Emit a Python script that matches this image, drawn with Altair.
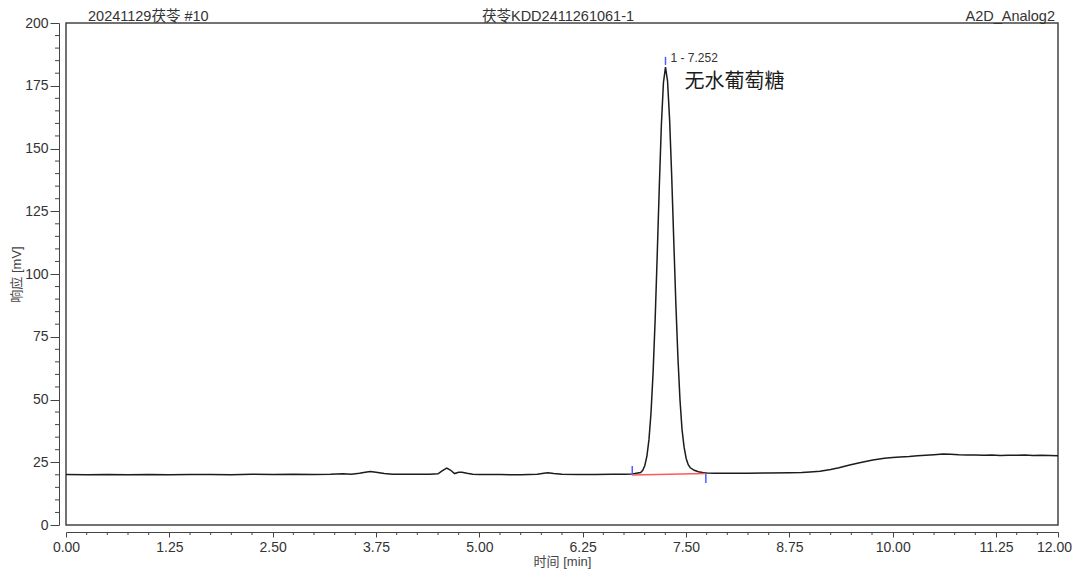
import altair as alt
import pandas as pd

# ---- data ----
time_min = [0.00, 0.25, 0.50, 0.75, 1.00, 1.25, 1.50, 1.75, 2.00, 2.25, 2.50, 2.75, 3.00, 3.20,
            3.35, 3.45, 3.55, 3.62, 3.68, 3.75, 3.85, 3.95, 4.10, 4.25, 4.40, 4.50, 4.55, 4.605,
            4.65, 4.70, 4.75, 4.79, 4.85, 4.92, 5.00, 5.25, 5.50, 5.70, 5.78, 5.83, 5.90, 6.00,
            6.20, 6.40, 6.60, 6.75, 6.85, 6.952, 6.977, 7.002, 7.027, 7.052, 7.077, 7.102, 7.127,
            7.152, 7.177, 7.202, 7.227, 7.252, 7.277, 7.302, 7.327, 7.352, 7.377, 7.402, 7.427,
            7.452, 7.477, 7.502, 7.527, 7.552, 7.60, 7.65, 7.70, 7.75, 7.85, 8.00, 8.25, 8.50,
            8.75, 8.90, 9.00, 9.12, 9.25, 9.35, 9.48, 9.60, 9.76, 9.90, 10.00, 10.09, 10.20,
            10.30, 10.40, 10.50, 10.61, 10.70, 10.80, 10.90, 11.00, 11.10, 11.20, 11.30, 11.40,
            11.50, 11.60, 11.70, 11.80, 11.90, 12.00]
response_mv = [20.1, 20.0, 20.1, 20.0, 20.1, 20.0, 20.1, 20.1, 20.0, 20.2, 20.1, 20.2, 20.1, 20.2,
               20.4, 20.2, 20.6, 21.0, 21.3, 21.0, 20.5, 20.2, 20.2, 20.2, 20.2, 20.4, 21.6, 22.7,
               21.9, 20.5, 21.0, 21.0, 20.6, 20.2, 20.1, 20.1, 20.0, 20.2, 20.6, 20.8, 20.5, 20.2,
               20.1, 20.1, 20.2, 20.2, 20.3, 20.9, 21.8, 23.7, 27.4, 34.0, 44.8, 60.8, 82.0,
               107.7, 134.8, 159.3, 176.2, 182.4, 176.8, 161.3, 139.0, 113.3, 88.4, 66.9, 50.0,
               38.0, 31.0, 26.5, 24.0, 22.8, 21.8, 21.2, 20.9, 20.7, 20.6, 20.6, 20.6, 20.7,
               20.8, 20.9, 21.1, 21.4, 22.1, 22.8, 23.9, 24.8, 25.9, 26.6, 26.9, 27.1, 27.3,
               27.6, 27.8, 28.0, 28.3, 28.2, 28.0, 27.9, 27.9, 27.8, 27.9, 27.7, 27.8,
               27.8, 27.9, 27.7, 27.8, 27.7, 27.6]

baseline_t = [6.85, 7.74]
baseline_v = [19.9, 20.5]

marker_t = [6.85, 7.252, 7.74]
marker_lo = [19.9, 183.3, 16.7]
marker_hi = [23.5, 186.5, 20.3]

peak_label_t = [7.252]
peak_label_v = [186.0]
peak_label = ["1 - 7.252"]
compound_t = [7.252]
compound_v = [175.0]
compound_name = ["无水葡萄糖"]

x_ticks = [0.00, 1.25, 2.50, 3.75, 5.00, 6.25, 7.50, 8.75, 10.00, 11.25, 12.00]
y_ticks = [0, 25, 50, 75, 100, 125, 150, 175, 200]
x_minor = [0.25, 0.5, 0.75, 1.0, 1.5, 1.75, 2.0, 2.25, 2.75, 3.0, 3.25, 3.5, 4.0, 4.25, 4.5, 4.75,
           5.25, 5.5, 5.75, 6.0, 6.5, 6.75, 7.0, 7.25, 7.75, 8.0, 8.25, 8.5, 9.0, 9.25, 9.5, 9.75,
           10.25, 10.5, 10.75, 11.0, 11.5, 11.75]
y_minor = [5, 10, 15, 20, 30, 35, 40, 45, 55, 60, 65, 70, 80, 85, 90, 95, 105, 110, 115, 120,
           130, 135, 140, 145, 155, 160, 165, 170, 180, 185, 190, 195]

header_texts = ["20241129茯苓 #10", "茯苓KDD2411261061-1", "A2D_Analog2"]
x_title = "时间 [min]"
y_title = "响应 [mV]"

FONT = "Liberation Sans, Arial, Noto Sans CJK SC"
W, H = 992, 502

trace = pd.DataFrame({"t": time_min, "v": response_mv})
base = pd.DataFrame({"t": baseline_t, "v": baseline_v})
marks = pd.DataFrame({"t": marker_t, "v": marker_lo, "v2": marker_hi})
lab1 = pd.DataFrame({"t": peak_label_t, "v": peak_label_v, "s": peak_label})
lab2 = pd.DataFrame({"t": compound_t, "v": compound_v, "s": compound_name})
xm = pd.DataFrame({"t": x_minor})
ym = pd.DataFrame({"v": y_minor})
heads = pd.DataFrame({"s": header_texts})

xscale = alt.Scale(domain=[0, 12], nice=False, zero=False)
yscale = alt.Scale(domain=[0, 200], nice=False)
xaxis = alt.Axis(values=x_ticks, format=".2f", title=x_title, offset=7, tickSize=5,
                 labelPadding=3, titlePadding=1, titleFontSize=13, grid=False,
                 labelFlush=False, labelOverlap=False,
                 labelOffset={"condition": {"test": "datum.value == 12", "value": -4}, "value": 0})
yaxis = alt.Axis(values=y_ticks, format="d", title=y_title, offset=7, tickSize=9,
                 labelPadding=2, titlePadding=1, titleFontSize=13, grid=False,
                 labelFlush=False, labelOverlap=False)
X = alt.X("t:Q", scale=xscale, axis=xaxis, title=x_title)
Y = alt.Y("v:Q", scale=yscale, axis=yaxis, title=y_title)

line = alt.Chart(trace).mark_line(color="#1c1c1c", strokeWidth=1.5).encode(x=X, y=Y)

redline = alt.Chart(base).mark_line(color="#ff5a5a", strokeWidth=1.5).encode(x=X, y=Y)

bluemarks = alt.Chart(marks).mark_rule(color="#4f5cff", strokeWidth=1.5).encode(
    x=X, y=Y, y2="v2:Q")

xminor = alt.Chart(xm).mark_rule(color="#444444", strokeWidth=1).encode(
    x=X, y=alt.value(H + 7), y2=alt.value(H + 10))

yminor = alt.Chart(ym).mark_rule(color="#444444", strokeWidth=1).encode(
    y=Y, x=alt.value(-7), x2=alt.value(-11))

label1 = alt.Chart(lab1).mark_text(align="left", baseline="middle", dx=5, fontSize=12,
                                    color="#333333", font=FONT).encode(x=X, y=Y, text="s:N")

label2 = alt.Chart(lab2).mark_text(align="left", baseline="middle", dx=19, dy=-4, fontSize=20,
                                    color="#1c1c1c", font=FONT).encode(x=X, y=Y, text="s:N")

HY = -2
HF = 14.5
h1 = alt.Chart(heads).transform_filter(alt.datum.s == header_texts[0]).mark_text(
    align="left", baseline="alphabetic", fontSize=HF, color="#333333", font=FONT).encode(
    x=alt.value(22), y=alt.value(HY), text="s:N")
h2 = alt.Chart(heads).transform_filter(alt.datum.s == header_texts[1]).mark_text(
    align="center", baseline="alphabetic", fontSize=HF, color="#333333", font=FONT).encode(
    x=alt.value(492), y=alt.value(HY), text="s:N")
h3 = alt.Chart(heads).transform_filter(alt.datum.s == header_texts[2]).mark_text(
    align="right", baseline="alphabetic", fontSize=HF, color="#333333", font=FONT).encode(
    x=alt.value(989), y=alt.value(HY), text="s:N")

chart = alt.layer(line, redline, bluemarks, xminor, yminor, label1, label2, h1, h2, h3).properties(
    width=W, height=H,
    autosize=alt.AutoSizeParams(type="none"),
    padding={"left": 58, "top": 15, "right": 14, "bottom": 45},
).configure(font=FONT).configure_view(
    stroke="#444444", strokeWidth=1.5
).configure_axis(
    domainColor="#444444", tickColor="#444444", domainWidth=1, tickWidth=1,
    labelColor="#333333", labelFontSize=14, labelFont=FONT,
    titleColor="#444444", titleFont=FONT, titleFontWeight="normal",
)

chart.save("out.html", embed_options={"renderer": "svg", "actions": False})
